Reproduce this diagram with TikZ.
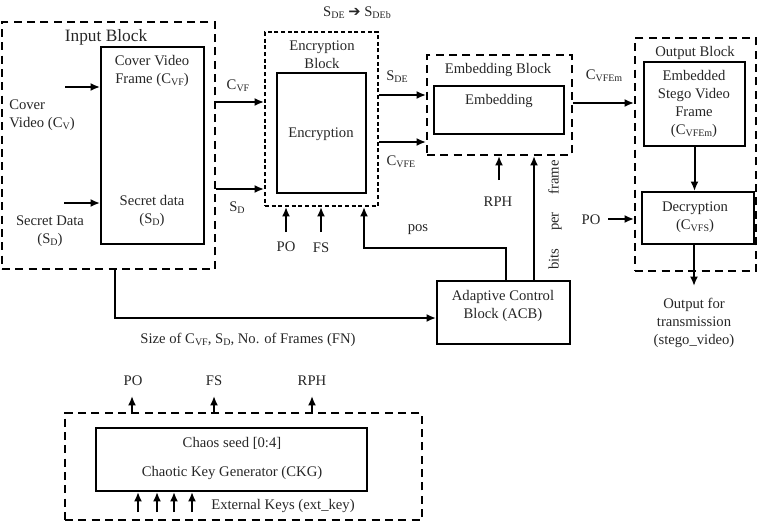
\documentclass[tikz,border=0pt]{standalone}
\usepackage{fontspec}
\setmainfont{Liberation Serif}
\newfontfamily\dejavu{DejaVu Sans}
\usetikzlibrary{arrows.meta,fit}
\newcommand\sbs[1]{\raisebox{-0.3ex}{\fontsize{7.5}{8}\selectfont #1}}
\begin{document}
\begin{tikzpicture}[x=0.75pt,y=-0.75pt,
  every node/.style={font=\fontsize{11}{13.5}\selectfont, text=black!85},
  box/.style={draw, line width=1.5pt, inner sep=0pt},
  dbox/.style={draw, line width=1.5pt, inner sep=0pt, dash pattern=on 6pt off 4pt},
  fdbox/.style={draw, line width=1.5pt, inner sep=0pt, dash pattern=on 3pt off 2pt},
  arr/.style={line width=1.5pt, -{Latex[length=7pt,width=6pt]}},
  txt/.style={align=center, inner sep=0pt}]
\useasboundingbox (0,0) rectangle (759,525);

% ---------- Input block ----------
\node[dbox, fit={(2,22) (215,269)}] (inblk) {};
\node[txt, font=\fontsize{13}{15}\selectfont] (intitle) at (106,37) {Input Block};
\node[box, fit={(101,47) (204,244)}] (cvfbox) {};
\node[txt] (cvft) at (152,71) {Cover Video\\Frame (C\sbs{VF})};
\node[txt] (sdt) at (152,211) {Secret data\\(S\sbs{D})};
\node[txt, align=left, anchor=west] (cvl) at (9,115) {Cover\\Video (C\sbs{V})};
\node[txt] (sdl) at (50,231) {Secret Data\\(S\sbs{D})};
\coordinate (cvin) at (65,87);
\coordinate (sdin) at (64,203);
\draw[arr] (cvin) -- (cvin -| cvfbox.west);
\draw[arr] (sdin) -- (sdin -| cvfbox.west);

% ---------- Encryption block ----------
\node[fdbox, fit={(265,32) (378,206)}] (encblk) {};
\node[txt] (enctitle) at (322,55) {Encryption\\Block};
\node[box, fit={(277,73) (366,193)}] (encbox) {};
\node[txt] (enct) at (321,134) {Encryption};
\node[txt] (sdeb) at (357,13) {S\sbs{DE} {\dejavu\bfseries ➔} S\sbs{DEb}};

\coordinate (ycvf) at (0,102);
\coordinate (ysd) at (0,189);
\draw[arr] (inblk.east |- ycvf) -- (encblk.west |- ycvf);
\draw[arr] (inblk.east |- ysd) -- (encblk.west |- ysd);
\node[txt] (lcvf) at (238,86) {C\sbs{VF}};
\node[txt] (lsd) at (237,208) {S\sbs{D}};

\coordinate (po1) at (286,232);
\coordinate (fs1) at (321,232);
\draw[arr] (po1) -- (po1 |- encblk.south);
\draw[arr] (fs1) -- (fs1 |- encblk.south);
\node[txt] (lpo1) at (286,247) {PO};
\node[txt] (lfs1) at (321,248) {FS};

% ---------- Embedding block ----------
\node[dbox, fit={(427,55) (572,155)}] (embblk) {};
\node[txt] (embtitle) at (498,70) {Embedding Block};
\node[box, fit={(434,86) (564,134)}] (embbox) {};
\node[txt] (embt) at (499,101) {Embedding};
\coordinate (ysde) at (0,95);
\coordinate (ycvfe) at (0,142);
\draw[arr] (encblk.east |- ysde) -- (embblk.west |- ysde);
\draw[arr] (encblk.east |- ycvfe) -- (embblk.west |- ycvfe);
\node[txt] (lsde) at (397,77) {S\sbs{DE}};
\node[txt] (lcvfe) at (401,162) {C\sbs{VFE}};
\coordinate (rph1) at (499,180);
\draw[arr] (rph1) -- (rph1 |- embblk.south);
\node[txt] (lrph1) at (498,202) {RPH};

% ---------- Output block ----------
\node[dbox, fit={(635,38) (756,271)}] (outblk) {};
\node[txt] (outtitle) at (695,53) {Output Block};
\node[box, fit={(644,62) (745,146)}] (stego) {};
\node[txt] (stegot) at (694,104) {Embedded\\Stego Video\\Frame\\(C\sbs{VFEm})};
\node[box, fit={(642,192) (754,244)}] (decr) {};
\node[txt] (decrt) at (695,217) {Decryption\\(C\sbs{VFS})};
\draw[arr] (stego.south) -- (stego.south |- decr.north);
\coordinate (outend) at (694,286);
\draw[arr] (decr.south -| outend) -- (outend);
\node[txt] (outt) at (694,323) {Output for\\transmission\\(stego\_video)};
\coordinate (po2) at (608,219);
\draw[arr] (po2) -- (po2 -| outblk.west);
\node[txt] (lpo2) at (591,220) {PO};
\coordinate (ycvfem) at (0,103);
\draw[arr] (embblk.east |- ycvfem) -- (outblk.west |- ycvfem);
\node[txt] (lcvfem) at (604,76) {C\sbs{VFEm}};

% ---------- ACB ----------
\node[box, fit={(437,281) (570,344)}] (acb) {};
\node[txt] (acbt) at (503,306) {Adaptive Control\\Block (ACB)};
\coordinate (p1) at (506,248);
\coordinate (p2) at (364,248);
\draw[arr] (acb.north -| p1) -- (p1) -- (p2) -- (p2 |- encblk.south);
\node[txt] (lpos) at (418,230) {pos};
\coordinate (b1) at (534,0);
\draw[arr] (acb.north -| b1) -- (b1 |- embblk.south);
\node[txt, rotate=90] (lbits) at (555,215) {bits\hspace{1.2em}per\hspace{1.2em}frame};
\coordinate (s1) at (115,0);
\coordinate (s2) at (0,318);
\draw[arr] (inblk.south -| s1) |- (acb.west |- s2);
\node[txt] (lsize) at (248,340) {Size of C\sbs{VF}, S\sbs{D}, No. of Frames (FN)};

% ---------- CKG ----------
\node[dbox, fit={(65,413) (422,520)}] (ckgblk) {};
\node[box, fit={(96,428) (367,491)}] (ckg) {};
\node[txt] (ckgt1) at (232,443) {Chaos seed [0:4]};
\node[txt] (ckgt2) at (232,473) {Chaotic Key Generator (CKG)};
\coordinate (o1) at (132,396);
\coordinate (o2) at (214,396);
\coordinate (o3) at (312,396);
\draw[arr] (ckgblk.north -| o1) -- (o1);
\draw[arr] (ckgblk.north -| o2) -- (o2);
\draw[arr] (ckgblk.north -| o3) -- (o3);
\node[txt] (lpo3) at (133,381) {PO};
\node[txt] (lfs3) at (214,381) {FS};
\node[txt] (lrph3) at (312,381) {RPH};
\coordinate (k1) at (138,512);
\coordinate (k2) at (157,512);
\coordinate (k3) at (174,512);
\coordinate (k4) at (192,512);
\draw[arr] (k1) -- (k1 |- ckg.south);
\draw[arr] (k2) -- (k2 |- ckg.south);
\draw[arr] (k3) -- (k3 |- ckg.south);
\draw[arr] (k4) -- (k4 |- ckg.south);
\node[txt] (lext) at (283,506) {External Keys (ext\_key)};
\end{tikzpicture}
\end{document}
